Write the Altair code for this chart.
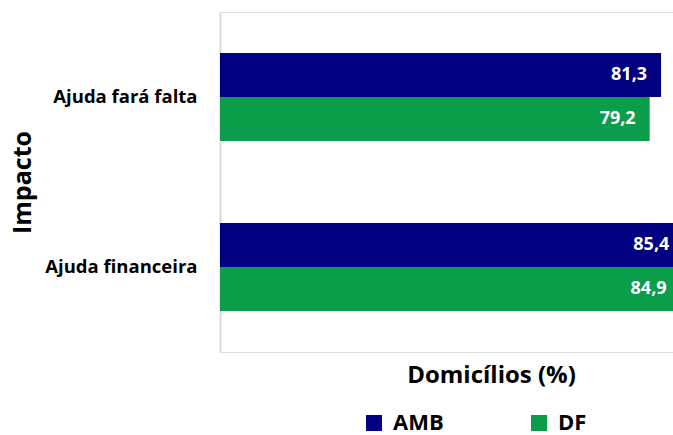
import altair as alt
import pandas as pd

categorias = ["Ajuda fará falta", "Ajuda financeira"]
series = ["AMB", "DF"]
valores_amb = [81.3, 85.4]
valores_df = [79.2, 84.9]
cores = ["#000080", "#0A9E4A"]

rows = []
for i, cat in enumerate(categorias):
    for s, vals in zip(series, [valores_amb, valores_df]):
        v = vals[i]
        rows.append({"Impacto": cat, "Serie": s, "Valor": v,
                     "Rotulo": f"{v:.1f}".replace(".", ",")})
data = pd.DataFrame(rows)

FONT = "Open Sans"

y_enc = alt.Y("Impacto:N", sort=categorias,
              scale=alt.Scale(paddingInner=0.4824, paddingOuter=0.2412),
              axis=alt.Axis(title="Impacto", titleFontSize=25, titleFontWeight="bold",
                            titleFont=FONT, titleColor="black", titleAngle=270,
                            titleX=-198, titleY=170, titleBaseline="middle",
                            titleAlign="center",
                            labelFont=FONT, labelFontSize=18.5, labelFontWeight="bold",
                            labelColor="black", labelPadding=23, ticks=False,
                            domainColor="#d9d9d9", domainWidth=2, grid=False))
yoff = alt.YOffset("Serie:N", sort=series, scale=alt.Scale(paddingInner=0, paddingOuter=0))
x_enc = alt.X("Valor:Q", scale=alt.Scale(domain=[0, 83.5], nice=False, zero=True),
              axis=alt.Axis(title="Domicílios (%)", titleFontSize=24, titleFontWeight="bold",
                            titleFont=FONT, titleColor="black",
                            titleX=271, titleY=23, titleBaseline="middle", titleAlign="center",
                            labels=False, ticks=False, domain=False, grid=False))

bars = alt.Chart(data).mark_bar().encode(
    x=x_enc, y=y_enc, yOffset=yoff,
    color=alt.Color("Serie:N", sort=series,
                    scale=alt.Scale(domain=series, range=cores),
                    legend=alt.Legend(title=None, orient="none", legendX=143, legendY=400,
                                      direction="horizontal", symbolType="square",
                                      symbolSize=256, symbolStrokeWidth=0,
                                      labelFont=FONT, labelFontSize=22,
                                      labelFontWeight="bold", labelColor="black",
                                      labelOffset=8, columnPadding=84, padding=0)),
)

labels = alt.Chart(data).mark_text(align="right", baseline="middle", dx=-14,
                                   color="white", font=FONT, fontSize=18,
                                   fontWeight="bold").encode(
    x=alt.X("Valor:Q"), y=alt.Y("Impacto:N", sort=categorias), yOffset=yoff,
    text="Rotulo:N",
)

chart = (bars + labels).properties(
    width=453, height=340,
    autosize=alt.AutoSizeParams(type="none"),
    padding={"left": 220, "top": 12, "right": 0, "bottom": 83},
).configure_view(stroke=None).configure(background="white")

chart.save("out.html", embed_options={"renderer": "svg", "actions": False})
